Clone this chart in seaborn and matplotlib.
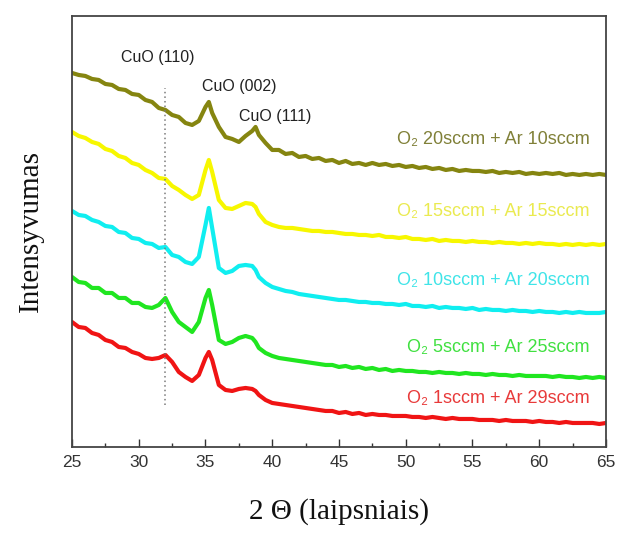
import pandas as pd
import seaborn as sns
import matplotlib.pyplot as plt
from matplotlib.ticker import MultipleLocator

# ==========================================
# DATA (arb. units)
# ==========================================
two_theta = [25.0, 25.5, 26.0, 26.5, 27.0, 27.5, 28.0, 28.5, 29.0, 29.5,
             30.0, 30.5, 31.0, 31.5, 32.0, 32.5, 33.0, 33.5, 34.0, 34.5,
             35.0, 35.25, 35.5,
             36.0, 36.5, 37.0, 37.5, 38.0, 38.5,
             38.75,
             39.0, 39.5, 40.0, 40.5, 41.0, 41.5, 42.0, 42.5, 43.0, 43.5,
             44.0, 44.5, 45.0, 45.5, 46.0, 46.5, 47.0, 47.5, 48.0, 48.5,
             49.0, 49.5, 50.0, 50.5, 51.0, 51.5, 52.0, 52.5, 53.0, 53.5,
             54.0, 54.5, 55.0, 55.5, 56.0, 56.5, 57.0, 57.5, 58.0, 58.5,
             59.0, 59.5, 60.0, 60.5, 61.0, 61.5, 62.0, 62.5, 63.0, 63.5,
             64.0, 64.5, 65.0]

o2_20 = [374, 372, 371, 368, 367, 363, 362, 358, 357, 353,
         352, 347, 345, 339, 337, 332, 330, 324, 322, 326,
         340, 345, 334,
         320, 310, 308, 305, 311, 316,
         320,
         312, 304, 297, 297, 293, 294, 290, 291, 288, 289,
         286, 287, 284, 286, 283, 284, 282, 284, 282, 283,
         281, 282, 280, 281, 279, 280, 278, 279, 277, 278,
         276, 277, 276, 276, 275, 276, 274, 275, 274, 275,
         273, 274, 273, 274, 273, 274, 272, 273, 272, 273,
         272, 273, 272]

o2_15 = [315, 311, 309, 305, 303, 298, 296, 291, 289, 284,
         282, 277, 274, 269, 268, 261, 257, 252, 248, 252,
         277, 287, 275,
         247, 239, 238, 241, 244, 243,
         240,
         233, 225, 222, 220, 219, 219, 218, 217, 216, 216,
         215, 215, 214, 213, 213, 212, 212, 211, 212, 210,
         210, 209, 210, 208, 208, 207, 208, 206, 207, 206,
         206, 205, 206, 205, 205, 204, 205, 204, 204, 203,
         204, 203, 204, 203, 203, 202, 203, 202, 203, 202,
         203, 202, 203]

o2_10 = [236, 232, 231, 227, 225, 221, 220, 215, 214, 209,
         208, 204, 203, 199, 200, 192, 190, 185, 183, 190,
         222, 239, 219,
         179, 174, 176, 181, 182, 181,
         177,
         170, 164, 160, 158, 156, 155, 153, 152, 151, 150,
         149, 148, 147, 147, 146, 145, 145, 144, 144, 143,
         143, 142, 143, 141, 141, 140, 141, 139, 140, 139,
         139, 138, 139, 137, 138, 137, 137, 136, 137, 136,
         136, 135, 136, 135, 135, 134, 135, 134, 135, 134,
         134, 134, 135]

o2_5 = [170, 165, 164, 159, 159, 154, 154, 149, 149, 144,
        144, 140, 139, 142, 149, 135, 125, 120, 115, 125,
        149, 157, 142,
        107, 103, 105, 109, 111, 109,
        105,
        99, 94, 91, 89, 88, 87, 86, 85, 84, 83,
        82, 82, 80, 81, 79, 80, 78, 79, 77, 78,
        76, 77, 76, 76, 75, 75, 74, 75, 74, 74,
        73, 74, 73, 73, 72, 73, 72, 72, 71, 72,
        71, 71, 71, 71, 70, 71, 70, 70, 69, 70,
        69, 70, 69]

o2_1 = [125, 120, 119, 114, 112, 107, 105, 100, 99, 95,
        93, 89, 88, 89, 92, 85, 75, 70, 66, 72,
        89, 95, 87,
        62, 57, 56, 58, 59, 58,
        56,
        52, 47, 44, 43, 42, 41, 40, 39, 38, 37,
        36, 36, 34, 35, 33, 34, 32, 33, 32, 32,
        31, 31, 31, 30, 30, 29, 30, 29, 28, 29,
        28, 28, 28, 27, 27, 27, 26, 27, 26, 26,
        26, 25, 26, 25, 25, 24, 25, 24, 24, 24,
        24, 23, 24]

series_names = ["O₂ 20sccm + Ar 10sccm", "O₂ 15sccm + Ar 15sccm",
                "O₂ 10sccm + Ar 20sccm", "O₂ 5sccm + Ar 25sccm",
                "O₂ 1sccm + Ar 29sccm"]
series_values = [o2_20, o2_15, o2_10, o2_5, o2_1]
line_colors = ["#858510", "#f7f700", "#10eef0", "#20e620", "#f01414"]
text_colors = ["#808038", "#eaea50", "#40e4e8", "#40e040", "#e83a3a"]
label_y = [307, 235, 166, 99, 48]

peak_labels = ["CuO (110)", "CuO (002)", "CuO (111)"]
peak_x = [31.4, 37.5, 40.2]
peak_y = [389, 360, 330]
cuo110_pos = 32.0

df = pd.concat(
    [pd.DataFrame({"2theta": two_theta, "I": vals, "sample": name})
     for name, vals in zip(series_names, series_values)],
    ignore_index=True)

# ==========================================
# PLOT
# ==========================================
sns.set_theme(style="white")
plt.rcParams['font.family'] = ['Liberation Sans', 'DejaVu Sans']

fig = plt.figure(figsize=(6.19, 5.41), dpi=100)
ax = fig.add_axes([0.1163, 0.1738, 0.8627, 0.7967])

sns.lineplot(data=df, x="2theta", y="I", hue="sample",
             palette=dict(zip(series_names, line_colors)),
             linewidth=3.0, legend=False, ax=ax, sort=False)

# dotted marker for CuO (110)
ax.plot([cuo110_pos, cuo110_pos], [42, 359], color="#7a7a7a",
        linestyle=(0, (1, 2)), linewidth=1.1)

for txt, px, py in zip(peak_labels, peak_x, peak_y):
    ax.text(px, py, txt, ha="center", va="center", fontsize=11.5,
            color="#222222")

for name, col, ly in zip(series_names, text_colors, label_y):
    ax.text(63.8, ly, name, ha="right", va="center", fontsize=13,
            color=col)

ax.set_xlim(25, 65)
ax.set_ylim(0, 431)
ax.xaxis.set_major_locator(MultipleLocator(5))
ax.xaxis.set_minor_locator(MultipleLocator(2.5))
ax.tick_params(axis="x", which="both", direction="in", bottom=True,
               top=False, labelsize=12.5, pad=6, colors="#333333")
ax.tick_params(axis="x", which="major", length=6, width=1)
ax.tick_params(axis="x", which="minor", length=3, width=1)
ax.set_yticks([])
for sp in ax.spines.values():
    sp.set_color("#444444")
    sp.set_linewidth(1.3)

ax.set_xlabel("2 Θ (laipsniais)", family=["Liberation Serif", "DejaVu Serif"],
              fontsize=21, labelpad=20, color="#111111")
ax.set_ylabel("Intensyvumas", family=["Liberation Serif", "DejaVu Serif"],
              fontsize=21, labelpad=20, color="#111111")

plt.savefig("out.png", dpi=100)
